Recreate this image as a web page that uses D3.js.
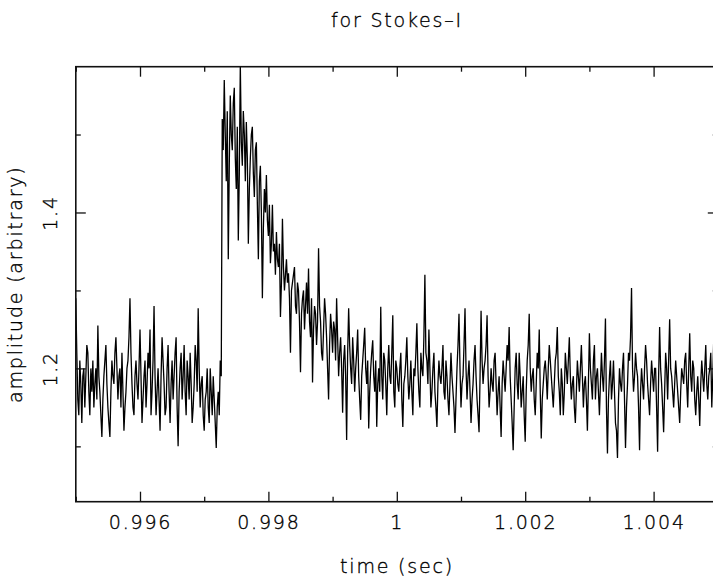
<!DOCTYPE html>
<html lang="en">
<head>
	<meta charset="UTF-8">
	<script src="https://cdnjs.cloudflare.com/ajax/libs/d3/7.8.5/d3.min.js"></script>
	<title>for Stokes-I</title>
	<style>
		html, body {
			margin: 0;
			padding: 0;
			background: #fff;
		}
		svg {
			display: block;
		}
		.lbl {
			font-family: "DejaVu Sans", sans-serif;
			font-weight: 200;
			font-size: 19px;
			letter-spacing: 1.8px;
			fill: #000;
			stroke: #000;
			stroke-width: 0.35;
		}
		.axis path.domain {
			display: none;
		}
		.axis line {
			stroke: #111;
			stroke-width: 1.3;
		}
	</style>
</head>
<body>
	<div class="chartDiv"></div>

	<script>
		// chart texts
		var chartTitle = "for Stokes\u2013I";
		var xTitle = "time (sec)";
		var yTitle = "amplitude (arbitrary)";

		// axes
		var xDomain = [0.995, 1.005];
		var yDomain = [1.029, 1.587];
		var xMajorTicks = [0.996, 0.998, 1.000, 1.002, 1.004];
		var xTickLabels = ["0.996", "0.998", "1", "1.002", "1.004"];
		var xMinorTicks = [0.995, 0.997, 0.999, 1.001, 1.003, 1.005];
		var yMajorTicks = [1.2, 1.4];
		var yTickLabels = ["1.2", "1.4"];
		var yMinorTicks = [1.1, 1.3, 1.5];

		// sampling of the series
		var startTime = 0.995;
		var sampleStep = 0.000015625;

		// amplitude samples
		var preBurst = [
			1.29, 1.22, 1.16, 1.14, 1.21, 1.18, 1.13, 1.19, 1.20, 1.15,
			1.19, 1.23, 1.22, 1.17, 1.14, 1.20, 1.17, 1.21, 1.15, 1.18,
			1.20, 1.16, 1.255, 1.19, 1.17, 1.14, 1.112, 1.16, 1.19, 1.21,
			1.23, 1.18, 1.15, 1.13, 1.112, 1.17, 1.21, 1.19, 1.18, 1.22,
			1.24, 1.20, 1.16, 1.19, 1.20, 1.15, 1.22, 1.17, 1.12, 1.15,
			1.17, 1.20, 1.21, 1.24, 1.29, 1.22, 1.18, 1.15, 1.14, 1.19,
			1.21, 1.18, 1.16, 1.20, 1.25, 1.19, 1.13, 1.16, 1.19, 1.21,
			1.15, 1.18, 1.22, 1.20, 1.25, 1.14, 1.17, 1.21, 1.28, 1.19,
			1.14, 1.17, 1.20, 1.16, 1.12, 1.19, 1.24, 1.21, 1.18, 1.14,
			1.15, 1.20, 1.23, 1.17, 1.13, 1.18, 1.21, 1.16, 1.19, 1.22,
			1.24, 1.15, 1.10, 1.17, 1.20, 1.22, 1.16, 1.19, 1.23, 1.17,
			1.14, 1.21, 1.19, 1.16, 1.22, 1.18, 1.13, 1.15, 1.18, 1.23,
			1.21, 1.17, 1.277, 1.20, 1.15, 1.18, 1.19, 1.14, 1.12, 1.16,
			1.17, 1.20, 1.15, 1.13, 1.20, 1.17, 1.14, 1.19, 1.16, 1.13,
			1.098, 1.15, 1.17, 1.14, 1.21, 1.19
		];
		var burstDecay = [
			1.52, 1.48, 1.57, 1.50, 1.44, 1.53, 1.34, 1.46, 1.55, 1.50,
			1.48, 1.54, 1.56, 1.47, 1.43, 1.51, 1.364, 1.45, 1.59, 1.49,
			1.46, 1.53, 1.50, 1.44, 1.516, 1.47, 1.36, 1.43, 1.47, 1.50,
			1.51, 1.45, 1.42, 1.48, 1.49, 1.41, 1.34, 1.44, 1.46, 1.40,
			1.29, 1.38, 1.43, 1.40, 1.448, 1.39, 1.37, 1.41, 1.335, 1.36,
			1.41, 1.35, 1.36, 1.32, 1.375, 1.34, 1.33, 1.36, 1.266, 1.31,
			1.392, 1.33, 1.30, 1.32, 1.34, 1.31, 1.322, 1.29, 1.22, 1.30,
			1.31, 1.32, 1.33, 1.28, 1.27, 1.31, 1.30, 1.26, 1.195, 1.27,
			1.29, 1.30, 1.25, 1.28, 1.31, 1.27, 1.328, 1.26, 1.24, 1.29,
			1.182, 1.25, 1.28, 1.27, 1.23, 1.26, 1.354, 1.28, 1.26, 1.22,
			1.21, 1.25, 1.29, 1.27, 1.24, 1.20, 1.16, 1.23, 1.27, 1.25,
			1.22, 1.26, 1.25, 1.21, 1.29, 1.24, 1.19, 1.22, 1.24, 1.20,
			1.143, 1.21, 1.23, 1.19, 1.108, 1.22, 1.277, 1.23, 1.20, 1.18,
			1.24, 1.21, 1.17, 1.20, 1.22, 1.25, 1.19, 1.16, 1.134, 1.19,
			1.21, 1.23, 1.252, 1.20, 1.18, 1.21, 1.123, 1.17, 1.20, 1.22,
			1.236, 1.19, 1.17, 1.21, 1.125, 1.18
		];
		var postBurst = [
			1.20, 1.17, 1.279, 1.19, 1.16, 1.22, 1.21, 1.18, 1.14, 1.20, 1.23, 1.19, 1.18, 1.22, 1.268, 1.17, 1.15, 1.21, 1.20, 1.18,
			1.17, 1.20, 1.22, 1.16, 1.125, 1.18, 1.19, 1.21, 1.24, 1.19, 1.16, 1.18, 1.21, 1.17, 1.14, 1.20, 1.19, 1.22, 1.258, 1.20,
			1.17, 1.15, 1.22, 1.20, 1.19, 1.24, 1.32, 1.22, 1.21, 1.18, 1.25, 1.20, 1.15, 1.17, 1.20, 1.22, 1.17, 1.15, 1.125, 1.18,
			1.21, 1.19, 1.18, 1.20, 1.23, 1.17, 1.16, 1.21, 1.19, 1.16, 1.14, 1.18, 1.22, 1.19, 1.17, 1.15, 1.117, 1.16, 1.20, 1.23,
			1.27, 1.20, 1.15, 1.18, 1.19, 1.23, 1.277, 1.20, 1.16, 1.19, 1.21, 1.17, 1.13, 1.16, 1.18, 1.21, 1.23, 1.19, 1.16, 1.14,
			1.118, 1.19, 1.274, 1.21, 1.18, 1.20, 1.21, 1.23, 1.268, 1.19, 1.15, 1.17, 1.20, 1.18, 1.17, 1.21, 1.22, 1.18, 1.14, 1.17,
			1.19, 1.15, 1.112, 1.18, 1.21, 1.19, 1.17, 1.20, 1.23, 1.21, 1.253, 1.19, 1.16, 1.13, 1.095, 1.15, 1.20, 1.22, 1.18, 1.16,
			1.22, 1.19, 1.15, 1.17, 1.19, 1.14, 1.106, 1.17, 1.21, 1.23, 1.27, 1.20, 1.17, 1.19, 1.20, 1.16, 1.14, 1.18, 1.22, 1.20,
			1.25, 1.17, 1.11, 1.16, 1.18, 1.20, 1.21, 1.19, 1.16, 1.20, 1.23, 1.21, 1.19, 1.17, 1.15, 1.18, 1.21, 1.22, 1.253, 1.19,
			1.17, 1.14, 1.20, 1.18, 1.14, 1.17, 1.22, 1.20, 1.18, 1.21, 1.24, 1.19, 1.16, 1.18, 1.19, 1.15, 1.13, 1.17, 1.21, 1.19,
			1.17, 1.20, 1.23, 1.19, 1.15, 1.18, 1.19, 1.16, 1.12, 1.18, 1.245, 1.20, 1.18, 1.16, 1.21, 1.23, 1.16, 1.19, 1.20, 1.17,
			1.14, 1.18, 1.22, 1.19, 1.17, 1.21, 1.264, 1.15, 1.091, 1.16, 1.19, 1.21, 1.16, 1.18, 1.21, 1.17, 1.13, 1.12, 1.085, 1.16,
			1.20, 1.18, 1.17, 1.20, 1.22, 1.16, 1.098, 1.15, 1.18, 1.22, 1.21, 1.24, 1.303, 1.20, 1.17, 1.19, 1.22, 1.20, 1.19, 1.15,
			1.095, 1.17, 1.20, 1.18, 1.16, 1.20, 1.23, 1.21, 1.18, 1.16, 1.14, 1.18, 1.21, 1.19, 1.17, 1.20, 1.20, 1.15, 1.093, 1.19,
			1.253, 1.20, 1.18, 1.15, 1.118, 1.17, 1.22, 1.20, 1.16, 1.21, 1.263, 1.20, 1.19, 1.17, 1.15, 1.18, 1.21, 1.19, 1.17, 1.15,
			1.13, 1.17, 1.20, 1.19, 1.18, 1.21, 1.22, 1.18, 1.15, 1.20, 1.245, 1.19, 1.17, 1.21, 1.20, 1.16, 1.14, 1.17, 1.19, 1.16,
			1.126, 1.18, 1.21, 1.19, 1.17, 1.20, 1.23, 1.18, 1.16, 1.19, 1.20, 1.22, 1.15, 1.19, 1.24, 1.20, 1.18, 1.19, 1.21
		];

		draw("chartDiv");

		function draw(chartDiv) {
			var W = 713, H = 583;

			// frame of the plot (right edge runs just past the window)
			var margin = {top: 66.7, right: -4.8, bottom: 81.3, left: 75.8};
			var width = W - margin.left - margin.right;
			var height = H - margin.top - margin.bottom;

			var svg = d3.select("." + chartDiv)
				.append("svg")
				.attr("width", W)
				.attr("height", H);

			var g = svg.append("g")
				.attr("transform", "translate(" + margin.left + "," + margin.top + ")");

			var xScale = d3.scaleLinear().domain(xDomain).range([0, width]);
			var yScale = d3.scaleLinear().domain(yDomain).range([height, 0]);

			// join the series
			var amps = preBurst.concat(burstDecay, postBurst);
			var data = amps.map(function(v, i) {
				return {t: startTime + i * sampleStep, amp: v};
			});

			// clip the trace to the frame
			svg.append("defs").append("clipPath")
				.attr("id", "frameClip")
				.append("rect")
				.attr("width", width)
				.attr("height", height);

			var line = d3.line()
				.x(d => xScale(d.t))
				.y(d => yScale(d.amp));

			g.append("path")
				.datum(data)
				.attr("clip-path", "url(#frameClip)")
				.attr("d", line)
				.attr("fill", "none")
				.attr("stroke", "#000")
				.attr("stroke-width", 1.3)
				.attr("stroke-linejoin", "miter");

			// ticks, all pointing inward
			var major = 10, minor = 5;

			function tickAxis(axis, vals, size, fmt, tr) {
				var a = g.append("g")
					.attr("class", "axis")
					.attr("transform", tr)
					.call(axis.tickValues(vals).tickSize(-size).tickFormat(fmt || ""));
				return a;
			}

			var xb = tickAxis(d3.axisBottom(xScale), xMajorTicks, major,
				(d, i) => xTickLabels[i], "translate(0," + height + ")");
			tickAxis(d3.axisBottom(xScale), xMinorTicks, minor, null, "translate(0," + height + ")");
			tickAxis(d3.axisTop(xScale), xMajorTicks, major, null, "translate(0,0)");
			tickAxis(d3.axisTop(xScale), xMinorTicks, minor, null, "translate(0,0)");

			var yl = tickAxis(d3.axisLeft(yScale), yMajorTicks, major,
				(d, i) => yTickLabels[i], "translate(0,0)");
			tickAxis(d3.axisLeft(yScale), yMinorTicks, minor, null, "translate(0,0)");
			tickAxis(d3.axisRight(yScale), yMajorTicks, major, null, "translate(" + width + ",0)");
			tickAxis(d3.axisRight(yScale), yMinorTicks, minor, null, "translate(" + width + ",0)");

			xb.selectAll("text")
				.attr("class", "lbl")
				.attr("y", 13)
				.attr("dy", "0.74em")
				.attr("fill", null);

			yl.selectAll("text")
				.attr("class", "lbl")
				.attr("text-anchor", "middle")
				.attr("transform", "rotate(-90)")
				.attr("x", 0)
				.attr("y", -19)
				.attr("dy", 0)
				.attr("fill", null);

			// frame
			g.append("rect")
				.attr("width", width)
				.attr("height", height)
				.attr("fill", "none")
				.attr("stroke", "#111")
				.attr("stroke-width", 1.6);

			// titles
			svg.append("text")
				.attr("class", "lbl")
				.attr("x", 397)
				.attr("y", 27)
				.attr("text-anchor", "middle")
				.text(chartTitle);

			svg.append("text")
				.attr("class", "lbl")
				.attr("x", 397)
				.attr("y", 573)
				.attr("text-anchor", "middle")
				.text(xTitle);

			svg.append("text")
				.attr("class", "lbl")
				.attr("transform", "translate(22," + (margin.top + height / 2) + ") rotate(-90)")
				.attr("text-anchor", "middle")
				.text(yTitle);
		}
	</script>
</body>
</html>
